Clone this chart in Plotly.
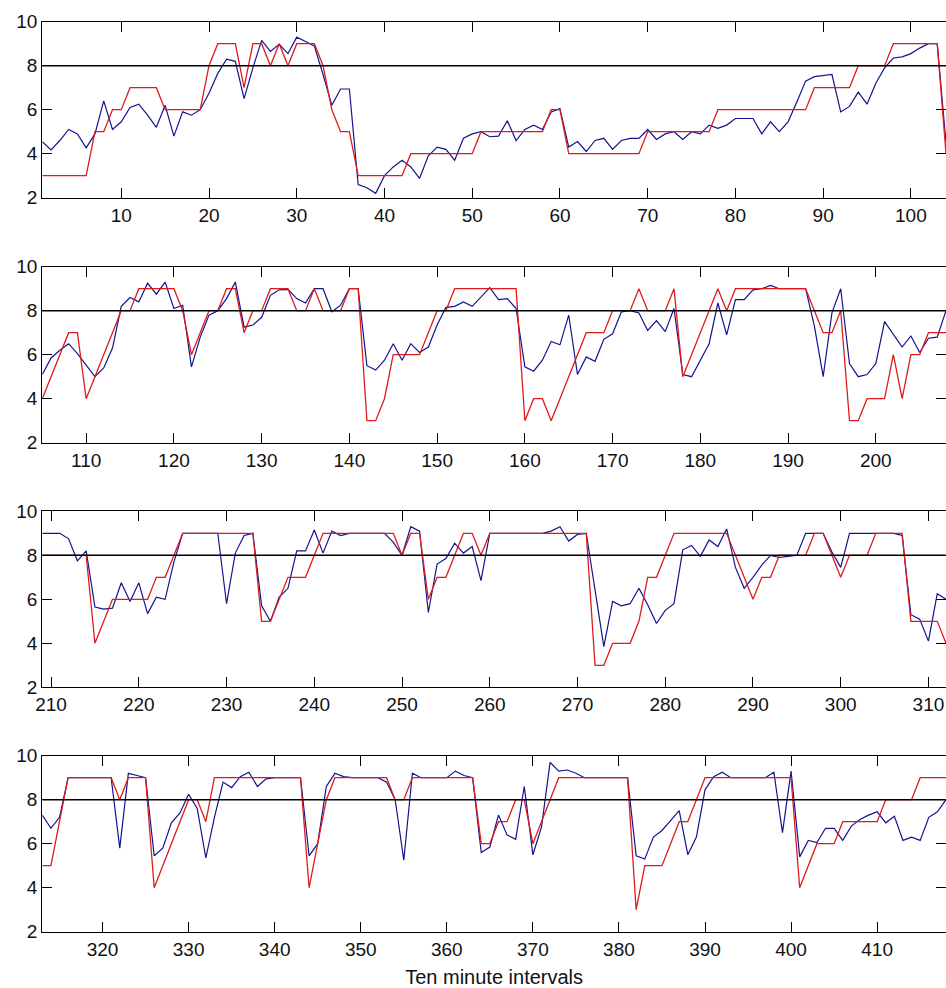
import plotly.graph_objects as go

# ---------------- data ----------------
X_START = [1, 105, 209, 313]
X_END = [104, 208, 312, 418]
THRESHOLD = 8
Y_TICKS = [2, 4, 6, 8, 10]
X_TITLE = "Ten minute intervals"

red_1 = [3, 3, 3, 3, 3, 3, 5, 5, 6, 6, 7, 7, 7, 7, 6, 6, 6, 6, 6, 8,
         9, 9, 9, 7, 9, 9, 8, 9, 8, 9, 9, 9, 8, 6, 5, 5, 3, 3, 3, 3,
         3, 3, 4, 4, 4, 4, 4, 4, 4, 4, 5, 5, 5, 5, 5, 5, 5, 5, 6, 6,
         4, 4, 4, 4, 4, 4, 4, 4, 4, 5, 5, 5, 5, 5, 5, 5, 5, 6, 6, 6,
         6, 6, 6, 6, 6, 6, 6, 6, 7, 7, 7, 7, 7, 8, 8, 8, 8, 9, 9, 9,
         9, 9, 9, 4]
blue_1 = [4.55, 4.17, 4.6, 5.1, 4.9, 4.27, 4.9, 6.4, 5.1, 5.45,
          6.1, 6.25, 5.75, 5.2, 6.2, 4.8, 5.9, 5.75, 6.0, 6.75,
          7.65, 8.3, 8.2, 6.5, 7.9, 9.15, 8.65, 8.97, 8.55, 9.3,
          9.1, 8.9, 7.6, 6.2, 6.94, 6.94, 2.6, 2.45, 2.2, 3.0,
          3.4, 3.7, 3.4, 2.88, 3.9, 4.3, 4.2, 3.7, 4.7, 4.9,
          5.0, 4.77, 4.8, 5.5, 4.6, 5.1, 5.3, 5.1, 5.9, 6.05,
          4.3, 4.55, 4.1, 4.6, 4.7, 4.2, 4.6, 4.7, 4.7, 5.1,
          4.65, 4.9, 5.0, 4.65, 5.0, 4.9, 5.3, 5.15, 5.3, 5.6,
          5.6, 5.6, 4.9, 5.45, 5.0, 5.45, 6.35, 7.3, 7.5, 7.55,
          7.6, 5.9, 6.15, 6.8, 6.25, 7.2, 7.9, 8.35, 8.4, 8.55,
          8.8, 9.0, 9.0, 4.5]

red_2 = [4, 5, 6, 7, 7, 4, 5, 6, 7, 8, 8, 9, 9, 9, 9, 9, 8, 6, 7, 8,
         8, 9, 9, 7, 8, 8, 9, 9, 9, 8, 8, 9, 8, 8, 8, 9, 9, 3, 3, 4,
         6, 6, 6, 6, 7, 8, 8, 9, 9, 9, 9, 9, 9, 9, 9, 3, 4, 4, 3, 4,
         5, 6, 7, 7, 7, 8, 8, 8, 9, 8, 8, 8, 9, 5, 6, 7, 8, 9, 8, 9,
         9, 9, 9, 9, 9, 9, 9, 9, 8, 7, 7, 8, 3, 3, 4, 4, 4, 6, 4, 6,
         6, 7, 7, 7]
blue_2 = [5.1, 5.85, 6.2, 6.5, 6.05, 5.5, 5.0, 5.4, 6.3, 8.2,
          8.6, 8.4, 9.25, 8.75, 9.3, 8.1, 8.25, 5.45, 6.8, 7.8,
          8.0, 8.55, 9.3, 7.25, 7.35, 7.7, 8.7, 8.95, 8.97, 8.55,
          8.35, 9.0, 9.0, 7.95, 8.25, 9.0, 9.0, 5.5, 5.3, 5.75,
          6.5, 5.75, 6.5, 6.1, 6.35, 7.35, 8.15, 8.2, 8.4, 8.2,
          8.65, 9.05, 8.5, 8.55, 8.1, 5.45, 5.25, 5.75, 6.6, 6.45,
          7.8, 5.1, 5.9, 5.7, 6.7, 6.95, 7.95, 8.0, 7.9, 7.1,
          7.55, 7.05, 8.1, 5.1, 5.0, 5.75, 6.5, 8.35, 6.9, 8.5,
          8.5, 8.95, 9.0, 9.15, 9.0, 9.0, 9.0, 9.0, 7.3, 5.0,
          7.9, 9.0, 5.6, 5.0, 5.1, 5.6, 7.5, 6.9, 6.35, 6.85,
          6.1, 6.75, 6.8, 8.0]

red_3 = [8, 8, 8, 8, 8, 8, 4, 5, 6, 6, 6, 6, 6, 7, 7, 8, 9, 9, 9, 9,
         9, 9, 9, 9, 9, 5, 5, 6, 7, 7, 7, 8, 9, 9, 9, 9, 9, 9, 9, 9,
         9, 8, 9, 9, 6, 7, 7, 8, 9, 9, 8, 9, 9, 9, 9, 9, 9, 9, 9, 9,
         9, 9, 9, 3, 3, 4, 4, 4, 5, 7, 7, 8, 9, 9, 9, 9, 9, 9, 9, 8,
         7, 6, 7, 7, 8, 8, 8, 8, 9, 9, 8, 7, 8, 8, 8, 9, 9, 9, 9, 5,
         5, 5, 5, 4]
blue_3 = [9.0, 9.0, 9.0, 8.75, 7.75, 8.2, 5.65, 5.55, 5.6, 6.75,
          5.9, 6.75, 5.35, 6.1, 6.0, 7.7, 9.0, 9.0, 9.0, 9.0,
          9.0, 5.8, 8.1, 8.9, 9.0, 5.7, 5.0, 6.1, 6.5, 8.2,
          8.2, 9.15, 8.1, 9.1, 8.9, 9.0, 9.0, 9.0, 9.0, 9.0,
          8.6, 8.0, 9.3, 9.1, 5.4, 7.6, 7.85, 8.55, 8.1, 8.4,
          6.85, 9.0, 9.0, 9.0, 9.0, 9.0, 9.0, 9.0, 9.1, 9.3,
          8.65, 8.95, 9.0, 6.4, 3.85, 5.9, 5.7, 5.8, 6.5, 5.75,
          4.9, 5.5, 5.8, 8.25, 8.45, 7.95, 8.7, 8.4, 9.2, 7.45,
          6.5, 7.0, 7.55, 8.0, 7.9, 7.95, 8.0, 9.0, 9.0, 9.0,
          8.15, 7.45, 9.0, 9.0, 9.0, 9.0, 9.0, 9.0, 8.9, 5.3,
          5.1, 4.1, 6.25, 6.0]

red_4 = [5, 5, 7, 9, 9, 9, 9, 9, 9, 8, 9, 9, 9, 4, 5, 6, 7, 8, 8, 7,
         9, 9, 9, 9, 9, 9, 9, 9, 9, 9, 9, 4, 6, 8, 9, 9, 9, 9, 9, 9,
         9, 8, 8, 9, 9, 9, 9, 9, 9, 9, 9, 6, 6, 7, 7, 8, 8, 6, 7, 8,
         9, 9, 9, 9, 9, 9, 9, 9, 9, 3, 5, 5, 5, 6, 7, 7, 8, 9, 9, 9,
         9, 9, 9, 9, 9, 9, 9, 9, 4, 5, 6, 6, 6, 7, 7, 7, 7, 7, 8, 8,
         8, 8, 9, 9, 9, 9]
blue_4 = [7.3, 6.7, 7.2, 9.0, 9.0, 9.0, 9.0, 9.0, 9.0, 5.8,
          9.2, 9.1, 9.0, 5.45, 5.8, 6.95, 7.4, 8.25, 7.6, 5.35,
          7.2, 8.8, 8.55, 9.05, 9.25, 8.6, 8.95, 9.0, 9.0, 9.0,
          9.0, 5.45, 6.0, 8.6, 9.2, 9.05, 9.0, 9.0, 9.0, 9.0,
          8.8, 8.0, 5.25, 9.2, 9.0, 9.0, 9.0, 9.0, 9.3, 9.1,
          9.0, 5.6, 5.85, 7.3, 6.4, 6.2, 8.6, 5.5, 6.75, 9.7,
          9.3, 9.35, 9.2, 9.0, 9.0, 9.0, 9.0, 9.0, 9.0, 5.45,
          5.3, 6.3, 6.6, 7.05, 7.5, 5.5, 6.3, 8.45, 9.05, 9.25,
          9.0, 9.0, 9.0, 9.0, 9.0, 9.25, 6.5, 9.3, 5.4, 6.15,
          6.05, 6.7, 6.7, 6.15, 6.8, 7.1, 7.3, 7.45, 6.95, 7.25,
          6.15, 6.3, 6.15, 7.2, 7.45, 8.0]

RED = [red_1, red_2, red_3, red_4]
BLUE = [blue_1, blue_2, blue_3, blue_4]

# ---------------- layout geometry (pixels) ----------------
W, H = 946, 988
PLOT_LEFT = 42.3
PANEL_TOPS = [21.7, 266.7, 511.3, 755.7]
PANEL_H = 176.0

BLUE_C = "#14148f"
RED_C = "#e01a1a"
FONT = "Liberation Sans, Arial, sans-serif"

fig = go.Figure()
layout = dict(
    width=W, height=H,
    margin=dict(l=0, r=0, t=0, b=0),
    paper_bgcolor="white", plot_bgcolor="white",
    showlegend=False,
    template="none",
    font=dict(family=FONT, size=19, color="black"),
)

for i in range(4):
    n = i + 1
    xs = list(range(X_START[i], X_START[i] + len(RED[i])))
    xa = "x" if n == 1 else f"x{n}"
    ya = "y" if n == 1 else f"y{n}"
    fig.add_trace(go.Scatter(x=xs, y=BLUE[i], mode="lines",
                             line=dict(color=BLUE_C, width=1.2),
                             xaxis=xa, yaxis=ya, hoverinfo="skip"))
    fig.add_trace(go.Scatter(x=xs, y=RED[i], mode="lines",
                             line=dict(color=RED_C, width=1.3),
                             xaxis=xa, yaxis=ya, hoverinfo="skip"))
    fig.add_shape(type="line", xref=f"{xa} domain", yref=ya,
                  x0=0, x1=1, y0=THRESHOLD, y1=THRESHOLD,
                  line=dict(color="black", width=1.4), layer="above")

    top = PANEL_TOPS[i]
    bot = top + PANEL_H
    dom_y = [1 - bot / H, 1 - top / H]
    xkey = "xaxis" if n == 1 else f"xaxis{n}"
    ykey = "yaxis" if n == 1 else f"yaxis{n}"
    layout[xkey] = dict(
        domain=[PLOT_LEFT / W, 1], anchor=ya,
        range=[X_START[i], X_END[i]],
        tick0=0, dtick=10, ticks="inside", ticklen=10, tickwidth=1,
        tickcolor="black", showline=True, linecolor="black", linewidth=1.3,
        mirror="ticks", showgrid=False, zeroline=False, automargin=False,
        tickfont=dict(size=19, color="#111111"),
    )
    layout[ykey] = dict(
        domain=dom_y, anchor=xa,
        range=[2, 10], tickvals=Y_TICKS,
        ticks="inside", ticklen=10, tickwidth=1, tickcolor="black",
        showline=True, linecolor="black", linewidth=1.3, mirror="ticks",
        showgrid=False, zeroline=False, automargin=False,
        tickfont=dict(size=19, color="#111111"),
    )

layout["xaxis4"]["title"] = dict(text=X_TITLE, font=dict(size=20, color="#111111"),
                                 standoff=12)

fig.update_layout(**layout)
fig.write_html("out.html")
